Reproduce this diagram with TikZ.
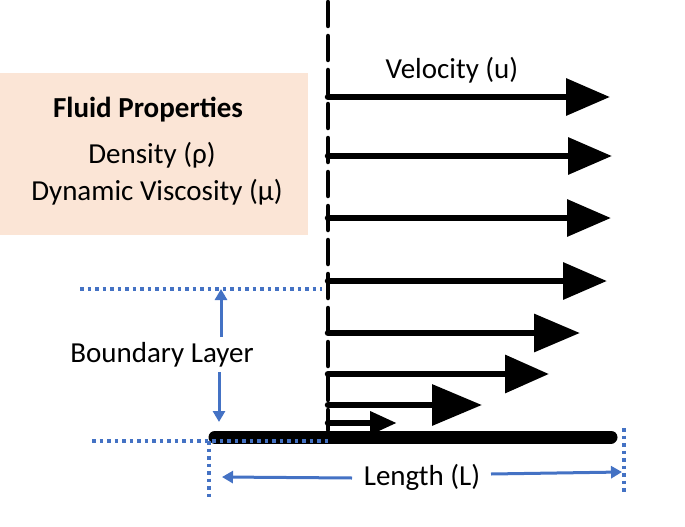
\documentclass[tikz,border=0pt]{standalone}
\usepackage{fontspec}
\setmainfont{Carlito}
\usetikzlibrary{arrows.meta}
\definecolor{peach}{HTML}{FBE5D6}
\definecolor{blu}{HTML}{4472C4}
\begin{document}
\begin{tikzpicture}[x=1pt,y=-1pt,
  lbl/.style={font=\fontsize{29}{33}\selectfont, inner sep=0pt},
  vel/.style={draw=black, line width=6.5pt, line cap=round, -{Triangle[length=#1]}},
  vel/.default={44pt, width=36pt},
  dotline/.style={draw=blu, line width=3.5pt, dash pattern=on 3.5pt off 4pt},
  bluarrow/.style={draw=blu, line width=3pt, -{Triangle[length=11pt,width=12pt]}},
  bldash/.style={draw=black, line width=4.5pt, line cap=round, dash pattern=on 24pt off 10pt}]
\useasboundingbox (0,0) rectangle (685,527);
% fluid properties box
\fill[peach] (0,73) rectangle (308,235);
\node[lbl, font=\fontsize{29}{33}\selectfont\bfseries] (fp) at (148,110) {Fluid Properties};
\node[lbl] (dens) at (152,155) {Density (ρ)};
\node[lbl] (visc) at (157,192) {Dynamic Viscosity (μ)};
% edge of boundary layer (dashed)
\coordinate (dtop) at (328,2);
\coordinate (dbot) at (328,430);
\draw[bldash] (dtop) -- (dbot);
% velocity label
\node[lbl] (velo) at (452,70) {Velocity (u)};
% velocity arrows
\coordinate (s1) at (328,97);  \coordinate (e1) at (610,97);
\coordinate (s2) at (328,156); \coordinate (e2) at (612,156);
\coordinate (s3) at (328,218); \coordinate (e3) at (611,218);
\coordinate (s4) at (328,281); \coordinate (e4) at (607,281);
\coordinate (s5) at (328,333); \coordinate (e5) at (580,333);
\coordinate (s6) at (328,374); \coordinate (e6) at (549,374);
\coordinate (s7) at (328,405); \coordinate (e7) at (482,405);
\coordinate (s8) at (328,423); \coordinate (e8) at (397,423);
\draw[vel] (s1) -- (e1);
\draw[vel] (s2) -- (e2);
\draw[vel] (s3) -- (e3);
\draw[vel] (s4) -- (e4);
\draw[vel={46pt, width=37pt}] (s5) -- (e5);
\draw[vel={44pt, width=37pt}] (s6) -- (e6);
\draw[vel={50pt, width=40pt}] (s7) -- (e7);
\draw[vel={27pt, width=22pt}] (s8) -- (e8);
% plate
\coordinate (p1) at (215,437);
\coordinate (p2) at (611,437);
\draw[line width=13pt, line cap=round] (p1) -- (p2);
% blue dotted guide lines
\coordinate (bl1a) at (80,289);  \coordinate (bl1b) at (322,289);
\coordinate (bl2a) at (92,441);  \coordinate (bl2b) at (330,441);
\coordinate (lv1a) at (209,441); \coordinate (lv1b) at (209,500);
\coordinate (lv2a) at (624,428); \coordinate (lv2b) at (624,492);
\draw[dotline] (bl1a) -- (bl1b);
\draw[dotline] (bl2a) -- (bl2b);
\draw[dotline] (lv1a) -- (lv1b);
\draw[dotline] (lv2a) -- (lv2b);
% boundary layer
\node[lbl] (bl) at (162,355) {Boundary Layer};
\coordinate (blu1) at (221,337); \coordinate (blu2) at (221,289);
\coordinate (bld1) at (219,372); \coordinate (bld2) at (219,422);
\draw[bluarrow] (blu1) -- (blu2);
\draw[bluarrow] (bld1) -- (bld2);
% length
\node[lbl] (len) at (422,477) {Length (L)};
\coordinate (la1) at (352,478); \coordinate (la2) at (222,477);
\coordinate (ra1) at (491,474); \coordinate (ra2) at (622,472);
\draw[bluarrow] (la1) -- (la2);
\draw[bluarrow] (ra1) -- (ra2);
\end{tikzpicture}
\end{document}
